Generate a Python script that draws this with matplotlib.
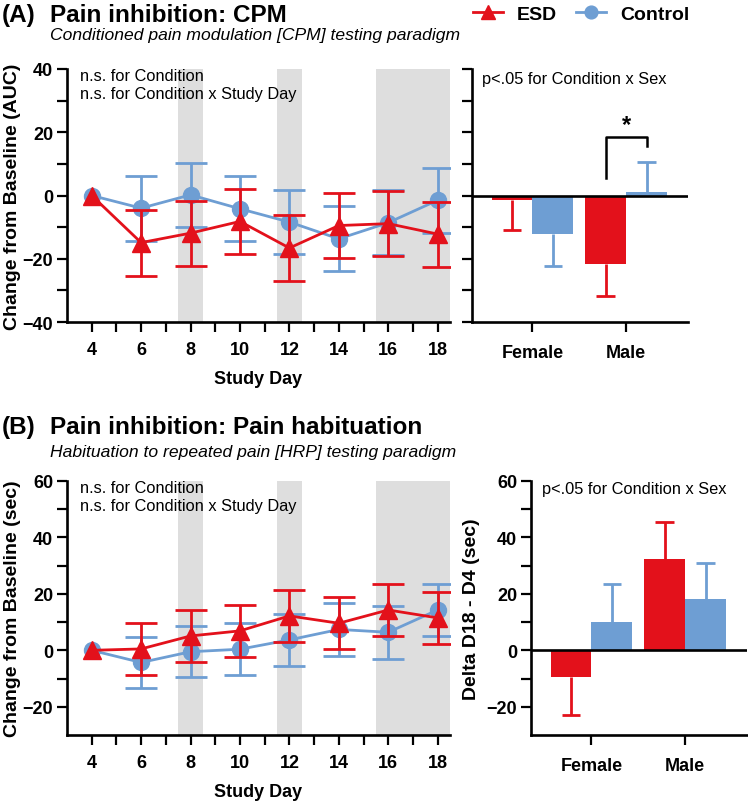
import numpy as np
import matplotlib
matplotlib.use("Agg")
import matplotlib.pyplot as plt

plt.rcParams['font.family'] = ['Liberation Sans', 'DejaVu Sans']

# ---- data ----
days = [4, 6, 8, 10, 12, 14, 16, 18]
stress_days = [(7.5, 8.5), (11.5, 12.5), (15.5, 18.5)]

cpm_esd_mean = [0, -14.9, -11.9, -8.2, -16.6, -9.5, -8.9, -12.2]
cpm_esd_err = [0, 10.4, 10.3, 10.3, 10.3, 10.3, 10.2, 10.3]
cpm_ctrl_mean = [0, -4.0, 0.2, -4.2, -8.4, -13.7, -8.6, -1.5]
cpm_ctrl_err = [0, 10.3, 10.2, 10.3, 10.2, 10.3, 10.3, 10.2]

hrp_esd_mean = [0, 0.5, 5.1, 6.9, 12.2, 9.6, 14.3, 11.5]
hrp_esd_err = [0, 9.3, 9.2, 9.3, 9.2, 9.2, 9.2, 9.2]
hrp_ctrl_mean = [0, -4.3, -0.5, 0.4, 3.7, 7.4, 6.4, 14.3]
hrp_ctrl_err = [0, 9.0, 9.1, 9.2, 9.2, 9.4, 9.3, 9.2]

sexes = ['Female', 'Male']
cpm_bar_esd = [-1.3, -21.8]
cpm_bar_esd_err = [9.7, 9.9]
cpm_bar_ctrl = [-12.2, 1.0]
cpm_bar_ctrl_err = [10.0, 9.7]

hrp_bar_esd = [-9.5, 32.3]
hrp_bar_esd_err = [13.4, 13.0]
hrp_bar_ctrl = [10.0, 18.2]
hrp_bar_ctrl_err = [13.6, 12.7]

RED = '#E3111B'
BLUE = '#6E9ED3'
GRAY = '#DEDEDE'

W, H = 748, 804
fig = plt.figure(figsize=(W / 100, H / 100), dpi=100)


def px_axes(left, top, right, bottom):
    return fig.add_axes([left / W, 1 - bottom / H, (right - left) / W, (bottom - top) / H])


def style_axes(ax):
    for s in ['top', 'right']:
        ax.spines[s].set_visible(False)
    for s in ['left', 'bottom']:
        ax.spines[s].set_linewidth(1.9)
    ax.tick_params(which='both', direction='out', length=7, width=1.6, pad=3,
                   labelsize=13)
    for lab in ax.get_xticklabels() + ax.get_yticklabels():
        lab.set_fontweight('bold')


def draw_series(ax, mean, err, color, marker, ms, label, z):
    d = np.array(days)
    m = np.array(mean)
    e = np.array(err)
    keep = e > 0  # baseline day has no error bar
    ax.errorbar(d[keep], m[keep], yerr=e[keep], fmt='none', ecolor=color,
                elinewidth=2, capsize=11.5, capthick=2, zorder=z)
    ax.plot(d, m, color=color, marker=marker, ms=ms, lw=2, zorder=z, label=label)


def line_panel(ax, esd_m, esd_e, ctrl_m, ctrl_e, ylim, major, minor, ylabel, ann):
    for a, b in stress_days:
        ax.axvspan(a, b, color=GRAY, lw=0, zorder=0)
    draw_series(ax, ctrl_m, ctrl_e, BLUE, 'o', 11.5, 'Control', 3)
    draw_series(ax, esd_m, esd_e, RED, '^', 13, 'ESD', 4)
    ax.set_xlim(3, 18.5)
    ax.set_ylim(*ylim)
    ax.set_xticks(days)
    ax.set_xticks([5, 7, 9, 11, 13, 15, 17], minor=True)
    ax.set_yticks(major)
    ax.set_yticks(minor, minor=True)
    style_axes(ax)
    ax.tick_params(axis='x', which='both', pad=7)
    ax.set_xlabel('Study Day', fontsize=13, fontweight='bold', labelpad=8)
    ax.set_ylabel(ylabel, fontsize=14, fontweight='bold', labelpad=1)
    ax.text(0.034, 0.957, ann[0], transform=ax.transAxes, fontsize=11.8, va='baseline')
    ax.text(0.034, 0.885, ann[1], transform=ax.transAxes, fontsize=11.8, va='baseline')


def bar_panel(ax, esd, esd_e, ctrl, ctrl_e, ylim, major, minor, show_labels):
    x = np.arange(len(sexes))
    w = 0.436
    ax.bar(x - w / 2, esd, width=w, color=RED, zorder=2)
    ax.bar(x + w / 2, ctrl, width=w, color=BLUE, zorder=2)
    # one-sided error bars pointing away from zero
    cap = 0.1
    for xs, vals, errs, col in [(x - w / 2, esd, esd_e, RED), (x + w / 2, ctrl, ctrl_e, BLUE)]:
        vals = np.array(vals)
        ends = vals + np.sign(vals) * np.array(errs)
        ax.vlines(xs, vals, ends, color=col, lw=2, zorder=2)
        ax.hlines(ends, xs - cap, xs + cap, color=col, lw=2, zorder=2)
    ax.axhline(0, color='black', lw=1.9, zorder=3)
    ax.set_xlim(-0.645, 1.66)
    ax.set_ylim(*ylim)
    ax.set_xticks(x)
    ax.set_xticklabels(sexes)
    ax.set_yticks(major)
    ax.set_yticks(minor, minor=True)
    style_axes(ax)
    ax.tick_params(axis='x', pad=9)
    if not show_labels:
        ax.set_yticklabels([])


# ---- (A) CPM ----
ax1 = px_axes(67, 70, 450, 323)
line_panel(ax1, cpm_esd_mean, cpm_esd_err, cpm_ctrl_mean, cpm_ctrl_err,
           (-40, 40), [-40, -20, 0, 20, 40], [-30, -10, 10, 30],
           'Change from Baseline (AUC)',
           ['n.s. for Condition', 'n.s. for Condition x Study Day'])

ax2 = px_axes(472, 70, 688, 323)
bar_panel(ax2, cpm_bar_esd, cpm_bar_esd_err, cpm_bar_ctrl, cpm_bar_ctrl_err,
          (-40, 40), [-40, -20, 0, 20, 40], [-30, -10, 10, 30], False)
ax2.text(0.046, 0.945, 'p<.05 for Condition x Sex', transform=ax2.transAxes,
         fontsize=11.8, va='baseline')
# significance bracket (male ESD vs Control)
ax2.plot([0.782, 0.782, 1.218, 1.218], [5.6, 18.5, 18.5, 15.7], color='black', lw=1.8)
ax2.text(1.0, 20.3, '*', ha='center', va='baseline', fontsize=17, fontweight='bold')

# ---- (B) HRP ----
ax3 = px_axes(67, 482, 450, 736)
line_panel(ax3, hrp_esd_mean, hrp_esd_err, hrp_ctrl_mean, hrp_ctrl_err,
           (-30, 60), [-20, 0, 20, 40, 60], [-10, 10, 30, 50],
           'Change from Baseline (sec)',
           ['n.s. for Condition', 'n.s. for Condition x Study Day'])

ax4 = px_axes(531, 482, 747, 736)
bar_panel(ax4, hrp_bar_esd, hrp_bar_esd_err, hrp_bar_ctrl, hrp_bar_ctrl_err,
          (-30, 60), [-20, 0, 20, 40, 60], [-10, 10, 30, 50], True)
ax4.set_ylabel('Delta D18 - D4 (sec)', fontsize=14, fontweight='bold', labelpad=5)
ax4.text(0.05, 0.953, 'p<.05 for Condition x Sex', transform=ax4.transAxes,
         fontsize=11.8, va='baseline')

# ---- titles ----
fig.text(2 / W, 1 - 22 / H, '(A)', fontsize=17.5, fontweight='bold', va='baseline')
fig.text(50 / W, 1 - 22 / H, 'Pain inhibition: CPM', fontsize=17.5, fontweight='bold', va='baseline')
fig.text(50 / W, 1 - 40 / H, 'Conditioned pain modulation [CPM] testing paradigm',
         fontsize=12.6, style='italic', va='baseline')
fig.text(2 / W, 1 - 434 / H, '(B)', fontsize=17.5, fontweight='bold', va='baseline')
fig.text(50 / W, 1 - 434 / H, 'Pain inhibition: Pain habituation', fontsize=17.5,
         fontweight='bold', va='baseline')
fig.text(50 / W, 1 - 457 / H, 'Habituation to repeated pain [HRP] testing paradigm',
         fontsize=12.6, style='italic', va='baseline')

# ---- legend ----
handles, labels = ax1.get_legend_handles_labels()
order = [labels.index('ESD'), labels.index('Control')]
fig.legend([handles[i] for i in order], [labels[i] for i in order],
           loc='center left', bbox_to_anchor=(473 / W, 1 - 15 / H), ncol=2,
           frameon=False, markerscale=0.8, handlelength=1.55, handletextpad=0.7,
           columnspacing=1.0, borderpad=0, borderaxespad=0,
           prop={'weight': 'bold', 'size': 14})

fig.savefig('out.png', dpi=100)
